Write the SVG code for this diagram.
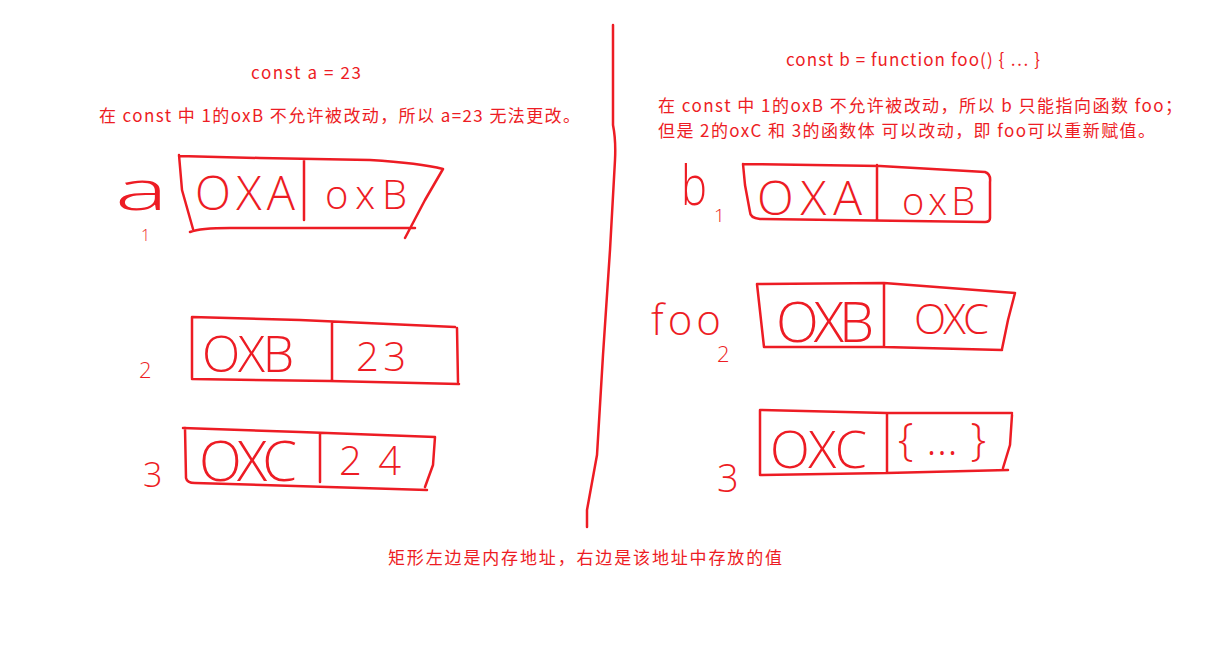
<svg xmlns="http://www.w3.org/2000/svg" width="1205" height="654" viewBox="0 0 1205 654">
<style>
.t{font-family:"Noto Sans CJK SC","Noto Sans",sans-serif;font-size:17px;fill:#ED1C24}
.h{font-family:"Open Sans","Noto Sans",sans-serif;font-weight:300;fill:#ED1C24}
.s{fill:none;stroke:#ED1C24;stroke-width:2.5;stroke-linecap:round;stroke-linejoin:round}
</style>
<rect width="1205" height="654" fill="#fff"/>
<g id="titles">
<text class="t" x="251" y="79" textLength="110">const a = 23</text>
<text class="t" x="99" y="122" textLength="481">在 const 中 1的oxB 不允许被改动，所以 a=23 无法更改。</text>
<text class="t" x="786" y="66" textLength="254">const b = function foo() { … }</text>
<text class="t" x="658" y="112" textLength="524">在 const 中 1的oxB 不允许被改动，所以 b 只能指向函数 foo；</text>
<text class="t" x="658" y="137" textLength="497">但是 2的oxC 和 3的函数体 可以改动，即 foo可以重新赋值。</text>
<text class="t" x="585" y="564" text-anchor="middle" textLength="394">矩形左边是内存地址，右边是该地址中存放的值</text>
</g>
<g id="divider">
<path class="s" d="M613,25 L613,125 Q616,140 615,160 L610,250 L603,355 L597,455 L587,510 L587,527"/>
</g>
<g id="box-a1">
<text class="h" x="115" y="210" font-size="56" textLength="53" lengthAdjust="spacingAndGlyphs">a</text>
<text class="h" x="141" y="241" font-size="16">1</text>
<path class="s" d="M179,156 L260,158 L370,160 Q420,163 443,169 M179,155 L182,190 L193,229 M190,232 Q200,228 230,228 L415,228 M443,169 L425,200 L405,238 M304,160 L304,220"/>
<text class="h" x="195" y="210" font-size="47" textLength="100">OXA</text>
<text class="h" x="325" y="209" font-size="40" textLength="82">oxB</text>
</g>
<g id="box-a2">
<text class="h" x="139" y="378" font-size="22">2</text>
<path class="s" d="M192,317 L300,320 L455,327 M192,317 L192,378 M192,379 L330,381 L459,384 M457,328 L458,382 M332,322 L332,381"/>
<text class="h" x="202" y="372" font-size="50" textLength="92">OXB</text>
<text class="h" x="356" y="371" font-size="40" textLength="50">23</text>
</g>
<g id="box-a3">
<text class="h" x="143" y="487" font-size="34">3</text>
<path class="s" d="M183,428 L300,432 L435,437 M185,428 L186,478 Q187,483 195,483 L427,490 M435,437 L433,465 L425,487 M320,433 L320,482"/>
<text class="h" x="199" y="481" font-size="56" textLength="98">OXC</text>
<text class="h" x="339" y="475" font-size="40" textLength="62">24</text>
</g>
<g id="box-b1">
<text class="h" x="681" y="205" font-size="56" textLength="26" lengthAdjust="spacingAndGlyphs">b</text>
<text class="h" x="714" y="222" font-size="19">1</text>
<path class="s" d="M743,164 L880,166 L985,172 Q991,174 990,182 L990,218 Q990,222 985,222 L760,219 Q750,218 750,212 L745,185 L743,164 M877,165 L877,220"/>
<text class="h" x="757" y="215" font-size="48" textLength="105">OXA</text>
<text class="h" x="902" y="215" font-size="38" textLength="73">oxB</text>
</g>
<g id="box-foo">
<text class="h" x="651" y="335" font-size="42" textLength="70">foo</text>
<text class="h" x="717" y="362" font-size="22">2</text>
<path class="s" d="M757,284 L884,283 L1015,293 M757,284 L764,347 M764,347 L884,347 L1002,350 M1015,293 L1008,320 L1002,349 M884,283 L884,347"/>
<text class="h" x="776" y="342" font-size="56" textLength="98">OXB</text>
<text class="h" x="914" y="334" font-size="42" textLength="75">OXC</text>
</g>
<g id="box-foo3">
<text class="h" x="717" y="492" font-size="38">3</text>
<path class="s" d="M760,410 L887,413 L1012,413 M760,410 L760,475 M760,475 L887,473 L1008,470 M1012,415 L1010,445 L1003,468 M887,413 L887,472"/>
<text class="h" x="770" y="468" font-size="52" textLength="97">OXC</text>
<text class="h" x="898" y="455" font-size="44" textLength="88">{…}</text>
</g>
</svg>
